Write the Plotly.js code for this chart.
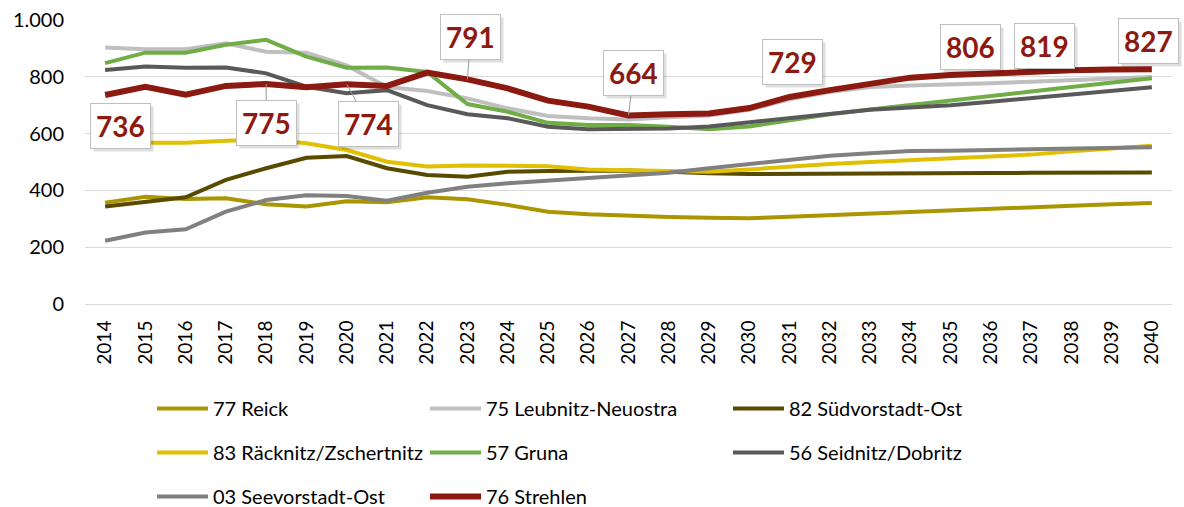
<!DOCTYPE html>
<html><head><meta charset="utf-8">
<script src="https://cdn.plot.ly/plotly-3.0.1.min.js"></script>
<style>html,body{margin:0;padding:0;background:#fff}#chart{width:1184px;height:507px}</style>
</head><body><div id="chart"></div>
<script>
const years = ['2014','2015','2016','2017','2018','2019','2020','2021','2022','2023','2024','2025','2026','2027','2028','2029','2030','2031','2032','2033','2034','2035','2036','2037','2038','2039','2040'];
const reick      = [357,378,370,372,351,343,362,358,376,369,349,325,316,310,306,304,302,307,313,319,325,331,336,340,346,351,356];
const leubnitz   = [903,897,897,918,888,885,840,764,750,724,689,662,654,650,658,664,684,721,746,764,769,772,777,783,789,794,799];
const suedvorst  = [343,360,376,437,478,515,521,478,454,448,466,468,469,470,466,460,458,458,458,458,459,460,461,462,462,462,463];
const raecknitz  = [568,568,568,575,580,566,542,501,484,488,488,485,474,472,468,466,474,484,493,500,507,513,519,526,538,548,557];
const gruna      = [848,885,885,913,930,871,832,833,817,704,677,638,630,630,624,615,625,648,668,685,700,716,732,748,764,780,795];
const seidnitz   = [824,836,832,833,812,765,742,753,700,668,654,624,615,616,618,625,640,655,670,684,692,700,712,724,737,750,763];
const seevorst   = [223,252,263,325,366,383,380,364,392,413,425,434,442,452,462,478,493,510,522,531,539,540,543,545,548,550,552];
const strehlen   = [736,765,737,768,775,763,774,768,815,791,759,716,695,664,668,671,690,729,753,777,797,806,813,819,823,826,827];

const seriesNames = ['77 Reick','75 Leubnitz-Neuostra','82 Südvorstadt-Ost','83 Räcknitz/Zschertnitz','57 Gruna','56 Seidnitz/Dobritz','03 Seevorstadt-Ost','76 Strehlen'];
const seriesData  = [reick, leubnitz, suedvorst, raecknitz, gruna, seidnitz, seevorst, strehlen];
const seriesColors = ['#AA9600','#BFBFBF','#584B00','#E0C000','#70AD47','#595959','#808080','#8C1A11'];
const seriesWidths = [4,4,4,4,4,4,4,6];
const legendOf = ['legend','legend2','legend3','legend','legend2','legend3','legend','legend2'];

// labelled Strehlen points: year, offset of box (px)
const labelYears = ['2014','2018','2020','2023','2027','2031','2035','2037','2040'];
const labelAx = [15, 0, 22, 3, 5, 3, 20, 13, -3];
const labelAy = [31, 39, 40, -42, -42, -35, -28, -25, -28];
const labelLeader = [false, true, true, true, true, false, false, false, false];

const font = 'Lato, "Open Sans", sans-serif';
const traces = seriesNames.map((n,i)=>({
  type:'scatter', mode:'lines', name:n, x:years, y:seriesData[i],
  line:{color:seriesColors[i], width:seriesWidths[i]},
  legend:legendOf[i], legendgroup:'g'+i, hoverinfo:'skip'
}));

const annotations = [];
labelYears.forEach((yr,k)=>{
  const idx = years.indexOf(yr);
  const v = strehlen[idx];
  annotations.push({x:idx, y:v, xref:'x', yref:'y', text:String(v), showarrow:true,
    ax:labelAx[k], ay:labelAy[k], axref:'pixel', ayref:'pixel', arrowcolor:'rgba(0,0,0,0)', arrowwidth:0.1,
    xshift:3, yshift:-3, font:{family:font, size:28, weight:700, color:'rgba(0,0,0,0)'},
    bgcolor:'rgba(0,0,0,0.13)', borderpad:5, borderwidth:1, bordercolor:'rgba(0,0,0,0)'});
  annotations.push({x:idx, y:v, xref:'x', yref:'y', text:String(v), showarrow:true,
    ax:labelAx[k], ay:labelAy[k], axref:'pixel', ayref:'pixel',
    arrowhead:0, arrowwidth:1, arrowcolor: labelLeader[k] ? '#9a9a9a' : 'rgba(0,0,0,0)', standoff:0,
    font:{family:font, size:28, weight:700, color:'#8C1A11'},
    bgcolor:'#ffffff', bordercolor:'#bfbfbf', borderwidth:1, borderpad:5});
});

const legBase = {orientation:'v', xref:'container', yref:'container', xanchor:'left', yanchor:'top',
  font:{family:font, size:20, color:'#000'}, itemwidth:51, tracegroupgap:15, bgcolor:'rgba(0,0,0,0)', traceorder:'grouped'};

const layout = {
  width:1184, height:507,
  margin:{l:85, r:12, t:20, b:203, autoexpand:false},
  paper_bgcolor:'#fff', plot_bgcolor:'#fff',
  separators:',.',
  showlegend:true,
  legend:Object.assign({}, legBase, {x:152/1184, y:1-389/507}),
  legend2:Object.assign({}, legBase, {x:425/1184, y:1-389/507}),
  legend3:Object.assign({}, legBase, {x:728/1184, y:1-389/507}),
  xaxis:{type:'category', range:[-0.5, years.length-0.5], autorange:false, tickangle:-90, showgrid:false, showline:true, linecolor:'#d9d9d9', linewidth:1,
    ticks:'', ticklabelstandoff:8, tickfont:{family:font, size:19, color:'#000'}, fixedrange:true, automargin:false},
  yaxis:{range:[0,1000], autorange:false, dtick:200, tickformat:',d', showgrid:true, gridcolor:'#d9d9d9', gridwidth:1,
    zeroline:true, zerolinecolor:'#d9d9d9', zerolinewidth:1, showline:false, ticks:'',
    ticklabelstandoff:20, tickfont:{family:font, size:20, color:'#000'}, fixedrange:true, automargin:false},
  annotations: annotations
};
Plotly.newPlot('chart', traces, layout, {displayModeBar:false, staticPlot:true});
</script></body></html>
